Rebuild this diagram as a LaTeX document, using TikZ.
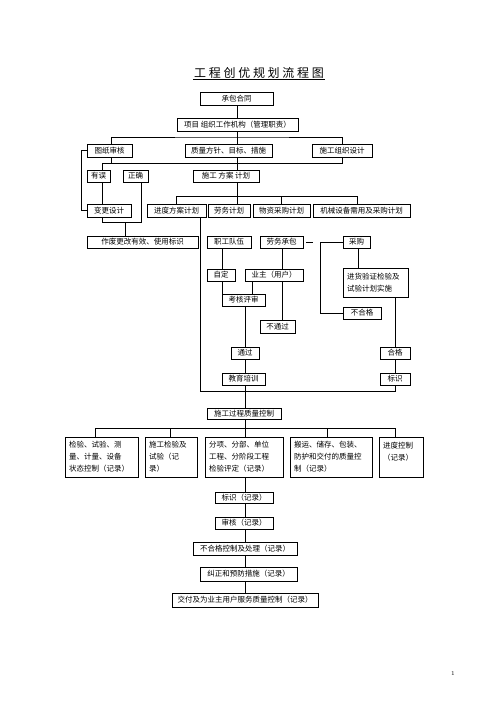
\documentclass[tikz,border=0pt]{standalone}
\usepackage{fontspec}
\newfontfamily\cjk{Noto Sans CJK SC}
\usetikzlibrary{calc}
\newcommand\bx[6]{\node[box, minimum width={(#4-#2)*1pt}, minimum height={(#5-#3)*1pt}] (#1) at ({(#2+#4)/2},{(#3+#5)/2}) {#6};}
\newcommand\mbx[7]{\node[mbox, text width=#6pt, minimum width={(#4-#2)*1pt}, minimum height={(#5-#3)*1pt}] (#1) at ({(#2+#4)/2},{(#3+#5)/2}) {#7};}
\newcommand\tsp{\hspace{2.7pt}}
\begin{document}
\begin{tikzpicture}[x=1pt,y=-1pt, line width=0.8pt,
 box/.style={draw, inner sep=0pt, font=\cjk\fontsize{7.5}{12}\selectfont, align=center},
 mbox/.style={draw, inner xsep=4pt, inner ysep=0pt, font=\cjk\fontsize{7.5}{12}\selectfont, align=left},
 ttl/.style={inner sep=0pt, font=\cjk\fontsize{12}{12}\selectfont}]
\useasboundingbox[fill=white] (0,0) rectangle (496,702);

\node[ttl] (title) at (259,72.5) {工\tsp 程\tsp 创\tsp 优\tsp 规\tsp 划\tsp 流\tsp 程\tsp 图};
\draw[line width=0.6pt] ($(title.west)+(-1,6.5)$) -- ($(title.east)+(1,6.5)$);

\bx{cb}{200}{92}{273}{105}{承包合同}
\bx{xm}{177}{118}{298}{131}{项目 组织工作机构（管理职责）}
\bx{tz}{87}{144}{132}{157}{图纸审核}
\bx{zl}{185}{144}{272}{157}{质量方针、目标、措施}
\bx{sg}{312}{144}{372}{157}{施工组织设计}
\bx{yw}{87}{170}{110}{182}{有误}
\bx{zq}{123}{170}{148}{182}{正确}
\bx{fa}{193}{170}{259}{182}{施工 方案 计划}
\bx{bg}{87}{204}{131}{217}{变更设计}
\bx{jd}{147}{204}{206}{217}{进度方案计划}
\bx{lj}{208}{204}{250}{217}{劳务计划}
\bx{wz}{253}{204}{310}{217}{物资采购计划}
\bx{jx}{313}{204}{410}{217}{机械设备需用及采购计划}
\bx{zf}{87}{236}{198}{248}{作废更改有效、使用标识}
\bx{zg}{207}{236}{251}{248}{职工队伍}
\bx{lw}{260}{236}{303}{248}{劳务承包}
\bx{cg}{343}{236}{370}{248}{采购}
\bx{zd}{207}{269}{235}{281}{自定}
\bx{yz}{245}{269}{303}{281}{业主（用户）}
\mbx{jh}{343}{268}{408}{297}{57}{进货验证检验及\\试验计划实施}
\bx{kh}{222}{294}{265}{306}{考核评审}
\bx{bt}{260}{320}{295}{333}{不通过}
\bx{bhg}{343}{307}{381}{319}{不合格}
\bx{tg}{231}{347}{259}{359}{通过}
\bx{hg}{380}{347}{410}{359}{合格}
\bx{jy}{222}{373}{265}{385}{教育培训}
\bx{bs}{380}{373}{410}{385}{标识}
\bx{gk}{207}{408}{281}{419}{施工过程质量控制}
\mbx{b1}{65}{437}{138}{477}{65}{检验、试验、测\\量、计量、设备\\状态控制（记录）}
\mbx{b2}{145}{437}{197}{477}{44}{施工检验及\\试验（记\\录）}
\mbx{b3}{205}{437}{283}{477}{70}{分项、分部、单位\\工程、分阶段工程\\检验评定（记录）}
\mbx{b4}{290}{437}{372}{477}{74}{搬运、储存、包装、\\防护和交付的质量控\\制（记录）}
\mbx{b5}{379}{437}{423}{477}{36}{进度控制\\（记录）\\\mbox{}}
\bx{r1}{215}{492}{273}{503}{标识（记录）}
\bx{r2}{215}{517}{273}{529}{审核（记录）}
\bx{r3}{193}{542}{297}{555}{不合格控制及处理（记录）}
\bx{r4}{200}{567}{297}{581}{纠正和预防措施（记录）}
\bx{r5}{172}{593}{318}{607}{交付及为业主用户服务质量控制（记录）}
\node[inner sep=0pt, font=\fontsize{6}{6}\selectfont] (pg) at (453,673) {1};

% connectors
\draw (cb.south -| 237,0) -- (xm.north -| 237,0);
\coordinate (h1) at (237,137);
\draw (xm.south -| h1) -- (h1);
\draw (tz.north -| 111,0) |- (h1) -| (sg.north);
\draw (h1) -- (zl.north -| h1);

\coordinate (h2) at (237,163);
\draw (tz.south -| 111,0) -- (111,163);
\draw (yw.north -| 102,0) -- (102,163) -| (sg.south);
\draw (zl.south -| h2) -- (fa.north -| h2);

\coordinate (h3) at (237,196);
\draw (fa.south -| h3) -- (lj.north -| h3);
\draw (jd.north) |- (357,196) -- (jx.north -| 357,0);
\draw (wz.north) -- (wz.north |- h3);

\draw (tz.west) -- ++(-5,0) |- (bg.west);
\draw (yw.south -| 102,0) -- (bg.north -| 102,0);
\draw (bg.south -| 102,0) |- (141,222) -- (zq.south -| 141,0);
\draw (125,222) -- (zf.north -| 125,0);

\draw (jd.south -| 200,0) |- (395,391) -- (bs.south);

\draw (zg.south -| 222,0) -- (zd.north -| 222,0);
\draw (lw.south -| 282,0) -- (yz.north -| 282,0);
\draw ([xshift=3pt]lw.east) -- ++(7,0);
\draw (cg.west) -- ++(-22,0) |- (bhg.west);
\draw (cg.south -| 358,0) -- (jh.north -| 358,0);
\draw (jh.south -| 395,0) -- (hg.north);
\draw (hg.south) -- (bs.north);
\draw (zd.south -| 222,0) -- (kh.north -| 222,0);
\draw (yz.south -| 252,0) -- (kh.north -| 252,0);
\draw (yz.south -| 282,0) -- (bt.north -| 282,0);
\draw (kh.south -| 245,0) -- (tg.north -| 245,0);
\draw (tg.south -| 245,0) -- (jy.north -| 245,0);
\draw (jy.south -| 245,0) -- (gk.north -| 245,0);

\draw (gk.south -| 245,0) -- (b3.north -| 245,0);
\draw (b1.north -| 95,0) |- (395,428) -- (b5.north -| 395,0);
\draw (b2.north -| 170,0) -- (170,428);
\draw (b4.north -| 327,0) -- (327,428);

\draw (b3.south -| 245,0) -- (r1.north -| 245,0);
\draw (r1.south -| 245,0) -- (r2.north -| 245,0);
\draw (r2.south -| 245,0) -- (r3.north -| 245,0);
\draw (r3.south -| 245,0) -- (r4.north -| 245,0);
\draw (r4.south -| 245,0) -- (r5.north -| 245,0);
\end{tikzpicture}
\end{document}
